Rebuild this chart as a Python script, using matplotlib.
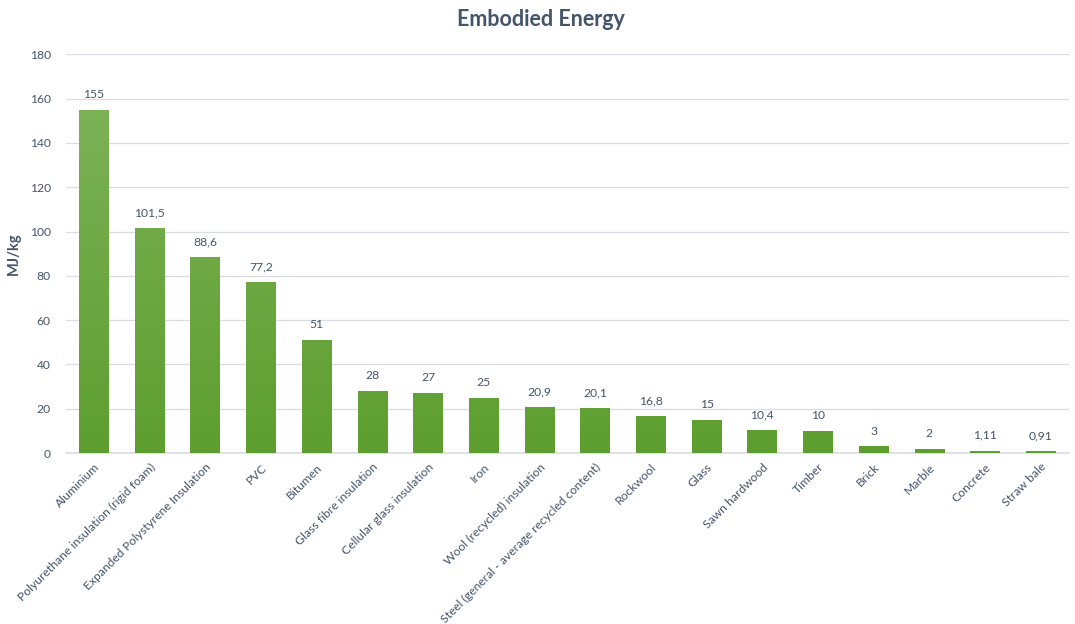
import matplotlib
matplotlib.use("Agg")
import matplotlib.pyplot as plt
import numpy as np

categories = ["Aluminium", "Polyurethane insulation (rigid foam)", "Expanded Polystyrene Insulation",
              "PVC", "Bitumen", "Glass fibre insulation", "Cellular glass insulation", "Iron",
              "Wool (recycled) insulation", "Steel (general - average recycled content)", "Rockwool",
              "Glass", "Sawn hardwood", "Timber", "Brick", "Marble", "Concrete", "Straw bale"]
values = [155, 101.5, 88.6, 77.2, 51, 28, 27, 25, 20.9, 20.1, 16.8, 15, 10.4, 10, 3, 2, 1.11, 0.91]
value_labels = ["155", "101,5", "88,6", "77,2", "51", "28", "27", "25", "20,9", "20,1", "16,8",
                "15", "10,4", "10", "3", "2", "1,11", "0,91"]
yticks = [0, 20, 40, 60, 80, 100, 120, 140, 160, 180]

plt.rcParams['font.family'] = ['Lato', 'DejaVu Sans']
txt = '#44546a'

fig = plt.figure(figsize=(10.75, 6.24), dpi=100)
ax = fig.add_axes([0.0614, 0.274, 0.9326, 0.639])

x = np.arange(len(categories))
bars = ax.bar(x, values, width=0.53, color='#6fab45', zorder=2)

from matplotlib.colors import LinearSegmentedColormap
cmap = LinearSegmentedColormap.from_list('g', ['#5e9e2f', '#80b55c'])
grad = np.linspace(0, 1, 256).reshape(-1, 1)
for b in bars:
    x0 = b.get_x()
    w = b.get_width()
    im = ax.imshow(grad, cmap=cmap, origin='lower', aspect='auto',
                   extent=[x0, x0 + w, 0, 180], zorder=3)
    im.set_clip_path(b)

for xi, v, lab in zip(x, values, value_labels):
    ax.annotate(lab, (xi, v), xytext=(0, 7), textcoords='offset points',
                ha='center', va='bottom', fontsize=8.7, color=txt)

ax.set_xlim(-0.5, len(categories) - 0.5)
ax.set_ylim(0, 180)
ax.set_yticks(yticks)
ax.set_yticklabels([str(t) for t in yticks], fontsize=8.7, color=txt)
ax.set_xticks(x)
ax.set_xticklabels(categories, rotation=45, ha='right', rotation_mode='anchor',
                   fontsize=8.7, color=txt)
ax.tick_params(axis='both', length=0)
ax.tick_params(axis='y', pad=11)
ax.tick_params(axis='x', pad=6)
ax.grid(axis='y', color='#d9dde3', linewidth=0.9, zorder=0)
ax.set_axisbelow(True)
for s in ['top', 'right', 'left']:
    ax.spines[s].set_visible(False)
ax.spines['bottom'].set_color('#d9dde3')
ax.spines['bottom'].set_linewidth(1.2)

ax.set_ylabel('MJ/kg', fontsize=10.5, fontweight='bold', color=txt, labelpad=6)
fig.text(0.503, 0.968, 'Embodied Energy', ha='center', va='center',
         fontsize=15.5, fontweight='bold', color=txt)

fig.savefig('out.png', dpi=100, facecolor='white')
